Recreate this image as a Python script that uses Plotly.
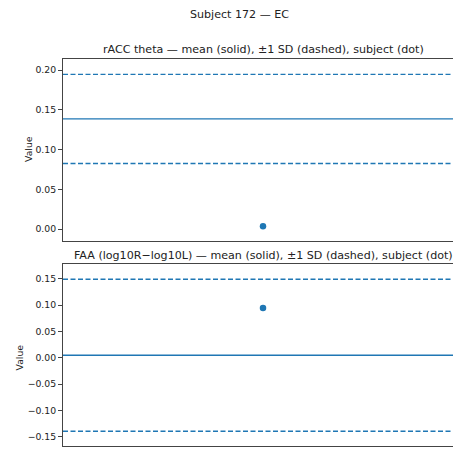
import plotly.graph_objects as go
from plotly.subplots import make_subplots

# ---- data ----
panel_titles = [
    "rACC theta — mean (solid), ±1 SD (dashed), subject (dot)",
    "FAA (log10R−log10L) — mean (solid), ±1 SD (dashed), subject (dot)",
]
group_mean = [0.1386, 0.0048]
group_sd = [0.0560, 0.1446]
subject_value = [0.0038, 0.0948]
y_ranges = [[-0.0142, 0.2139], [-0.1678, 0.1793]]
y_ticks = [[0.00, 0.05, 0.10, 0.15, 0.20],
           [-0.15, -0.10, -0.05, 0.00, 0.05, 0.10, 0.15]]
suptitle = "Subject 172 — EC"
x_range = [-0.055, 0.05225]

BLUE = "#1f77b4"
FONT = "DejaVu Sans"
W, H = 453, 449
L, R, T, B = 63, 0, 59, 3
PH = H - T - B
PW = W - L - R
TITLE_SIZE = 11.1
TICK_SIZE = 9.3

fig = make_subplots(rows=2, cols=1)

for i in range(2):
    row = i + 1
    m, sd, sv = group_mean[i], group_sd[i], subject_value[i]
    fig.add_trace(go.Scatter(x=x_range, y=[m, m], mode="lines",
                             line=dict(color=BLUE, width=1.4), showlegend=False,
                             hoverinfo="skip"), row=row, col=1)
    for v in (m + sd, m - sd):
        fig.add_trace(go.Scatter(x=x_range, y=[v, v], mode="lines",
                                 line=dict(color=BLUE, width=1.4, dash="5px,2.5px"),
                                 showlegend=False, hoverinfo="skip"), row=row, col=1)
    fig.add_trace(go.Scatter(x=[0], y=[sv], mode="markers",
                             marker=dict(color=BLUE, size=6.5), showlegend=False),
                  row=row, col=1)

top_dom = [(H - B - 240.5) / PH, 1.0]
bot_dom = [0.0, (H - B - 263.5) / PH]

axis_common = dict(showline=True, linecolor="#444", linewidth=1, showgrid=False,
                   zeroline=False)
for i, dom in enumerate([top_dom, bot_dom]):
    n = "" if i == 0 else str(i + 1)
    fig.update_layout(**{
        "xaxis" + n: dict(range=x_range, mirror=True, showticklabels=False,
                          ticks="", **axis_common),
        "yaxis" + n: dict(range=y_ranges[i], domain=dom, tickvals=y_ticks[i],
                          tickformat=".2f", ticks="outside", ticklen=4,
                          tickcolor="#444", tickwidth=1,
                          tickfont=dict(family=FONT, size=TICK_SIZE, color="#222"),
                          **axis_common),
    })

def px_to_paper_x(px):
    return (px - L) / PW

def px_to_paper_y(py):
    return (H - B - py) / PH

annotations = [
    dict(text=suptitle, x=px_to_paper_x(239), y=px_to_paper_y(14),
         font=dict(family=FONT, size=TITLE_SIZE, color="#222")),
    dict(text=panel_titles[0], x=px_to_paper_x(263), y=px_to_paper_y(50),
         font=dict(family=FONT, size=TITLE_SIZE, color="#222")),
    dict(text=panel_titles[1], x=px_to_paper_x(263), y=px_to_paper_y(256),
         font=dict(family=FONT, size=TITLE_SIZE, color="#222")),
    dict(text="Value", x=px_to_paper_x(28), y=px_to_paper_y(149), textangle=-90,
         font=dict(family=FONT, size=TICK_SIZE, color="#222")),
    dict(text="Value", x=px_to_paper_x(19), y=px_to_paper_y(357.5), textangle=-90,
         font=dict(family=FONT, size=TICK_SIZE, color="#222")),
]
for a in annotations:
    a.update(xref="paper", yref="paper", showarrow=False,
             xanchor="center", yanchor="middle")

fig.update_layout(width=W, height=H, margin=dict(l=L, r=R, t=T, b=B),
                  plot_bgcolor="white", paper_bgcolor="white",
                  annotations=annotations, showlegend=False)

fig.write_html("out.html")
